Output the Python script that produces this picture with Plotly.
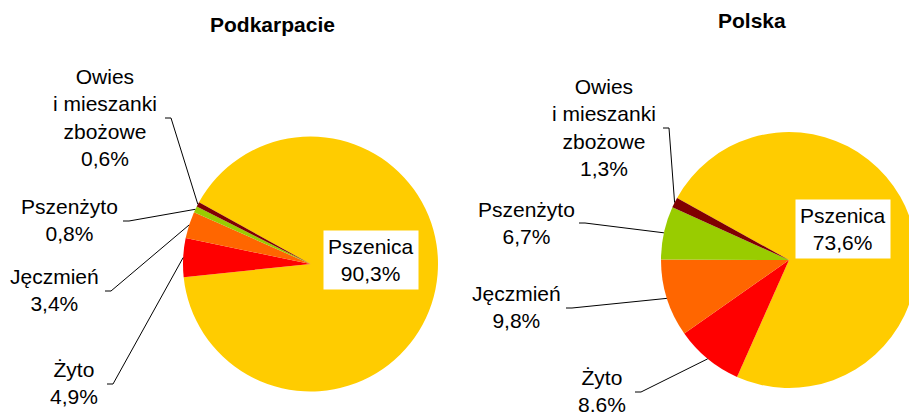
import math
import plotly.graph_objects as go

# ---- data ----
categories = ["Pszenica", "Żyto", "Jęczmień", "Pszenżyto", "Owies i mieszanki zbożowe"]
label_texts = ["Pszenica", "Żyto", "Jęczmień", "Pszenżyto", "Owies<br>i mieszanki<br>zbożowe"]
podkarpacie = [90.3, 4.9, 3.4, 0.8, 0.6]
polska = [73.6, 8.6, 9.8, 6.7, 1.3]
titles = ["Podkarpacie", "Polska"]
colors = ["#FFCC00", "#FF0000", "#FF6600", "#99CC00", "#800000"]

# ---- layout (pixel space) ----
W, H = 920, 412
FONT = "Arial, 'Liberation Sans', sans-serif"
FS = 21
START_DEG = 151  # math angle where the first (clockwise) slice starts

pies = [
    dict(values=podkarpacie, cx=310.5, cy=264, r=127.5, title_xy=(272.5, 25),
         box_xy=(371, 260),
         labels={1: (74, 383), 2: (54, 289.5), 3: (69, 220), 4: (105, 117.5)},
         anchors={1: (107, 384), 2: (105, 291), 3: (123, 221), 4: (165, 118)}),
    dict(values=polska, cx=789, cy=260, r=128, title_xy=(752, 21),
         box_xy=(843, 229),
         labels={1: (601.5, 390.5), 2: (516.5, 306.5), 3: (526.5, 222.5), 4: (604, 127.5)},
         anchors={1: (635, 392), 2: (566, 308), 3: (579, 223), 4: (663, 128)}),
]


def px(x):
    return x / W


def py(y):
    return 1 - y / H


def fmt(v):
    return f"{v:.1f}".replace(".", ",") + "%"


fig = go.Figure()
annotations = []
shapes = []

for k, p in enumerate(pies):
    vals = p["values"]
    cx, cy, r = p["cx"], p["cy"], p["r"]
    fig.add_trace(go.Pie(
        labels=categories, values=vals, sort=False, direction="clockwise",
        rotation=90 - START_DEG, textinfo="none", hoverinfo="label+percent",
        marker=dict(colors=colors, line=dict(width=0)),
        domain=dict(x=[px(cx - r), px(cx + r)], y=[py(cy + r), py(cy - r)]),
        showlegend=False,
    ))
    # title
    annotations.append(dict(
        text=f"<b>{titles[k]}</b>", x=px(p["title_xy"][0]), y=py(p["title_xy"][1]),
        xref="paper", yref="paper", showarrow=False, xanchor="center", yanchor="middle",
        font=dict(family=FONT, size=FS, color="black")))
    # main slice label in white box
    annotations.append(dict(
        text=f"{label_texts[0]}<br>{fmt(vals[0])}", x=px(p["box_xy"][0]), y=py(p["box_xy"][1]),
        xref="paper", yref="paper", showarrow=False, xanchor="center", yanchor="middle",
        bgcolor="white", borderpad=4,
        font=dict(family=FONT, size=FS, color="black")))
    total = sum(vals)
    cum = 0.0
    for i, v in enumerate(vals):
        mid = math.radians(START_DEG - (cum + v / 2) / total * 360)
        cum += v
        if i == 0:
            continue
        ex, ey = cx + r * math.cos(mid), cy - r * math.sin(mid)
        ax_, ay_ = p["anchors"][i]
        shapes.append(dict(
            type="path", xref="paper", yref="paper",
            path=f"M {px(ax_)} {py(ay_)} L {px(ax_ + 6)} {py(ay_)} L {px(ex)} {py(ey)}",
            line=dict(color="black", width=1)))
        lx, ly = p["labels"][i]
        annotations.append(dict(
            text=f"{label_texts[i]}<br>{fmt(v)}", x=px(lx), y=py(ly),
            xref="paper", yref="paper", showarrow=False, xanchor="center", yanchor="middle",
            font=dict(family=FONT, size=FS, color="black")))

fig.update_layout(
    width=W, height=H, margin=dict(l=0, r=0, t=0, b=0),
    paper_bgcolor="white", plot_bgcolor="white",
    annotations=annotations, shapes=shapes, showlegend=False,
)

fig.write_html(
    "out.html",
    config={"displayModeBar": False},
    post_script="document.documentElement.style.overflow='hidden';"
                "document.body.style.overflow='hidden';document.body.style.margin='0';",
)
